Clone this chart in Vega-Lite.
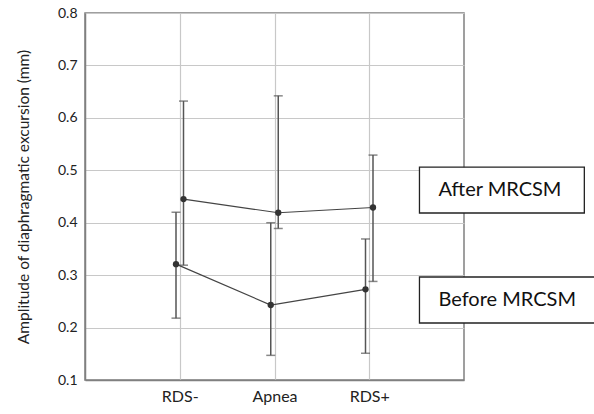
{
  "$schema": "https://vega.github.io/schema/vega-lite/v6.json",
  "autosize": {"type": "none"},
  "width": 379,
  "height": 367,
  "padding": {"left": 85, "top": 13, "right": 130, "bottom": 34},
  "config": {
    "font": "Lato",
    "view": {"stroke": "#808080", "strokeWidth": 1.5},
    "axis": {"gridColor": "#c8c8c8", "gridWidth": 1.2, "labelColor": "#222", "titleColor": "#222", "labelFont": "Lato", "titleFont": "Lato"}
  },
  "datasets": {
    "pts": [
      {"group": "RDS-", "phase": "Before", "mean": 0.321, "lo": 0.218, "hi": 0.420},
      {"group": "Apnea", "phase": "Before", "mean": 0.243, "lo": 0.147, "hi": 0.400},
      {"group": "RDS+", "phase": "Before", "mean": 0.273, "lo": 0.151, "hi": 0.369},
      {"group": "RDS-", "phase": "After", "mean": 0.445, "lo": 0.319, "hi": 0.632},
      {"group": "Apnea", "phase": "After", "mean": 0.419, "lo": 0.389, "hi": 0.642},
      {"group": "RDS+", "phase": "After", "mean": 0.429, "lo": 0.288, "hi": 0.529}
    ],
    "labels": [
      {"label": "After MRCSM", "x1": 3.53, "x2": 5.27, "y1": 0.4185, "y2": 0.506, "tx": 3.73, "ty": 0.462},
      {"label": "Before MRCSM", "x1": 3.53, "x2": 5.6, "y1": 0.2087, "y2": 0.2965, "tx": 3.73, "ty": 0.2526}
    ]
  },
  "layer": [
    {
      "data": {"name": "pts"},
      "encoding": {
        "x": {"field": "group", "type": "nominal", "sort": ["RDS-", "Apnea", "RDS+"],
              "scale": {"type": "point", "padding": 1},
              "axis": {"title": null, "labelAngle": 0, "labelFontSize": 16, "ticks": false, "labelPadding": 8, "domain": true, "domainColor": "#808080", "domainWidth": 1.5, "grid": true}},
        "xOffset": {"field": "phase", "type": "nominal", "scale": {"type": "point", "domain": ["Before", "After"], "range": [-7.5, 7.5]}},
        "y": {"field": "mean", "type": "quantitative",
              "scale": {"domain": [0.1, 0.8], "nice": false, "zero": false},
              "axis": {"title": "Amplitude of diaphragmatic excursion (mm)", "titleFontSize": 15.5, "titleFontWeight": "normal", "titlePadding": 26,
                       "values": [0.1, 0.2, 0.3, 0.4, 0.5, 0.6, 0.7, 0.8], "format": ".1f", "labelFontSize": 14, "ticks": false, "labelPadding": 8,
                       "domainColor": "#808080", "domainWidth": 1.5, "grid": true}}
      },
      "layer": [
        {"mark": {"type": "rule", "color": "#555", "strokeWidth": 1.5},
         "encoding": {"y": {"field": "lo", "type": "quantitative"}, "y2": {"field": "hi"}}},
        {"mark": {"type": "tick", "color": "#555", "size": 9, "thickness": 1.5, "orient": "horizontal"},
         "encoding": {"y": {"field": "lo", "type": "quantitative"}}},
        {"mark": {"type": "tick", "color": "#555", "size": 9, "thickness": 1.5, "orient": "horizontal"},
         "encoding": {"y": {"field": "hi", "type": "quantitative"}}},
        {"mark": {"type": "line", "color": "#444", "strokeWidth": 1.2},
         "encoding": {"detail": {"field": "phase"}}},
        {"mark": {"type": "point", "filled": true, "color": "#333", "size": 40, "opacity": 1}}
      ]
    },
    {
      "data": {"name": "labels"},
      "layer": [
        {"mark": {"type": "rect", "fill": "white", "stroke": "#222", "strokeWidth": 1.3, "clip": false},
         "encoding": {
           "x": {"field": "x1", "type": "quantitative", "scale": {"domain": [0, 4]}, "axis": null},
           "x2": {"field": "x2"},
           "y": {"field": "y1", "type": "quantitative", "scale": {"domain": [0.1, 0.8]}, "axis": null},
           "y2": {"field": "y2"}
         }},
        {"mark": {"type": "text", "align": "left", "baseline": "middle", "fontSize": 20, "color": "#111", "clip": false},
         "encoding": {
           "x": {"field": "tx", "type": "quantitative", "scale": {"domain": [0, 4]}, "axis": null},
           "y": {"field": "ty", "type": "quantitative", "scale": {"domain": [0.1, 0.8]}, "axis": null},
           "text": {"field": "label"}
         }}
      ],
      "resolve": {"scale": {"x": "shared", "y": "shared"}}
    }
  ],
  "resolve": {"scale": {"x": "independent", "y": "independent"}, "axis": {"x": "independent", "y": "independent"}}
}
